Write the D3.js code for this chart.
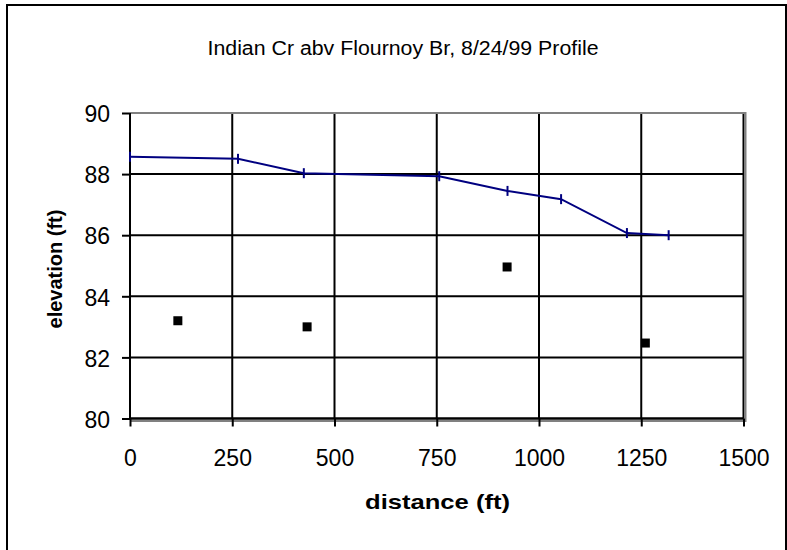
<!DOCTYPE html>
<html>
<head>
<meta charset="utf-8">
<script src="https://cdn.jsdelivr.net/npm/d3@7"></script>
<style>
html,body{margin:0;padding:0;background:#fff;}
svg{display:block;font-family:"Liberation Sans",Arial,sans-serif;}
</style>
</head>
<body>
<svg id="chart" width="787" height="550"></svg>
<script>
const titleText = "Indian Cr abv Flournoy Br, 8/24/99 Profile";
const xLabel = "distance (ft)";
const yLabel = "elevation (ft)";
const xTicks = [0, 250, 500, 750, 1000, 1250, 1500];
const yTicks = [80, 82, 84, 86, 88, 90];
const surfaceDist = [0, 264, 425, 756, 923, 1054, 1215, 1317];
const surfaceElev = [88.57, 88.5, 88.03, 87.93, 87.45, 87.18, 86.07, 86.0];
const bedDist = [117, 433, 922, 1260];
const bedElev = [83.2, 83.0, 84.96, 82.47];

const svg = d3.select("#chart");
const x = d3.scaleLinear().domain([0, 1500]).range([130, 743.5]);
const y = d3.scaleLinear().domain([80, 90]).range([418.5, 113]);

// outer frame
svg.append("rect").attr("x", 7).attr("y", 5).attr("width", 779).attr("height", 560)
  .attr("fill", "none").attr("stroke", "#000").attr("stroke-width", 2);

// title
svg.append("text").attr("x", 403).attr("y", 55).attr("text-anchor", "middle")
  .attr("font-size", 20).attr("textLength", 391).attr("lengthAdjust", "spacingAndGlyphs")
  .attr("fill", "#000").text(titleText);

// gridlines
const g = svg.append("g");
g.selectAll(".vg").data(xTicks).join("line")
  .attr("x1", d => x(d)).attr("x2", d => x(d)).attr("y1", y(90)).attr("y2", y(80))
  .attr("stroke", "#000").attr("stroke-width", 2);
g.selectAll(".hg").data(yTicks).join("line")
  .attr("y1", d => y(d)).attr("y2", d => y(d)).attr("x1", x(0)).attr("x2", x(1500))
  .attr("stroke", "#000").attr("stroke-width", 2);

// plot area border (gray)
svg.append("path")
  .attr("d", `M${x(0)},${y(90)}H${x(1500)+2}V${y(80)+2.5}H${x(0)}`)
  .attr("fill", "none").attr("stroke", "#808080").attr("stroke-width", 2);

// axes
const xAxis = d3.axisBottom(x).tickValues(xTicks).tickSize(8).tickPadding(23).tickFormat(d3.format("d"));
const yAxis = d3.axisLeft(y).tickValues(yTicks).tickSize(8).tickPadding(12).tickFormat(d3.format("d"));
const gx = svg.append("g").attr("transform", `translate(0,${y(80)})`).call(xAxis);
const gy = svg.append("g").attr("transform", `translate(${x(0)},0)`).call(yAxis);
[gx, gy].forEach(a => {
  a.select(".domain").attr("stroke", "#000").attr("stroke-width", 2);
  a.selectAll(".tick line").attr("stroke", "#000").attr("stroke-width", 2);
  a.selectAll(".tick text").attr("fill", "#000").attr("font-size", 23)
    .attr("font-family", "Liberation Sans, Arial, sans-serif");
});
gy.selectAll(".tick text").attr("dy", "0.38em");
gy.select(".domain").attr("d", `M0,${y(90)}V${y(80)}`);
gx.select(".domain").attr("d", `M${x(0)},0H${x(1500)}`);

// axis titles
svg.append("text").attr("x", 437.5).attr("y", 509).attr("text-anchor", "middle")
  .attr("font-size", 21).attr("font-weight", "bold").attr("fill", "#000")
  .attr("textLength", 145).attr("lengthAdjust", "spacingAndGlyphs")
  .text(xLabel);
svg.append("text").attr("transform", "translate(62,269) rotate(-90)").attr("text-anchor", "middle")
  .attr("font-size", 20).attr("font-weight", "bold").attr("fill", "#000")
  .text(yLabel);

// water surface line
const surf = surfaceDist.map((d, i) => [d, surfaceElev[i]]);
svg.append("path").datum(surf)
  .attr("d", d3.line().x(d => x(d[0])).y(d => y(d[1])))
  .attr("fill", "none").attr("stroke", "#000080").attr("stroke-width", 2);
svg.selectAll(".mk").data(surf).join("line")
  .attr("x1", d => x(d[0])).attr("x2", d => x(d[0]))
  .attr("y1", d => y(d[1]) - 5).attr("y2", d => y(d[1]) + 5)
  .attr("stroke", "#000080").attr("stroke-width", 2);

// bed points
const bed = bedDist.map((d, i) => [d, bedElev[i]]);
svg.selectAll(".sq").data(bed).join("rect")
  .attr("x", d => x(d[0]) - 4.5).attr("y", d => y(d[1]) - 4.5)
  .attr("width", 9).attr("height", 9).attr("fill", "#000");
</script>
</body>
</html>
